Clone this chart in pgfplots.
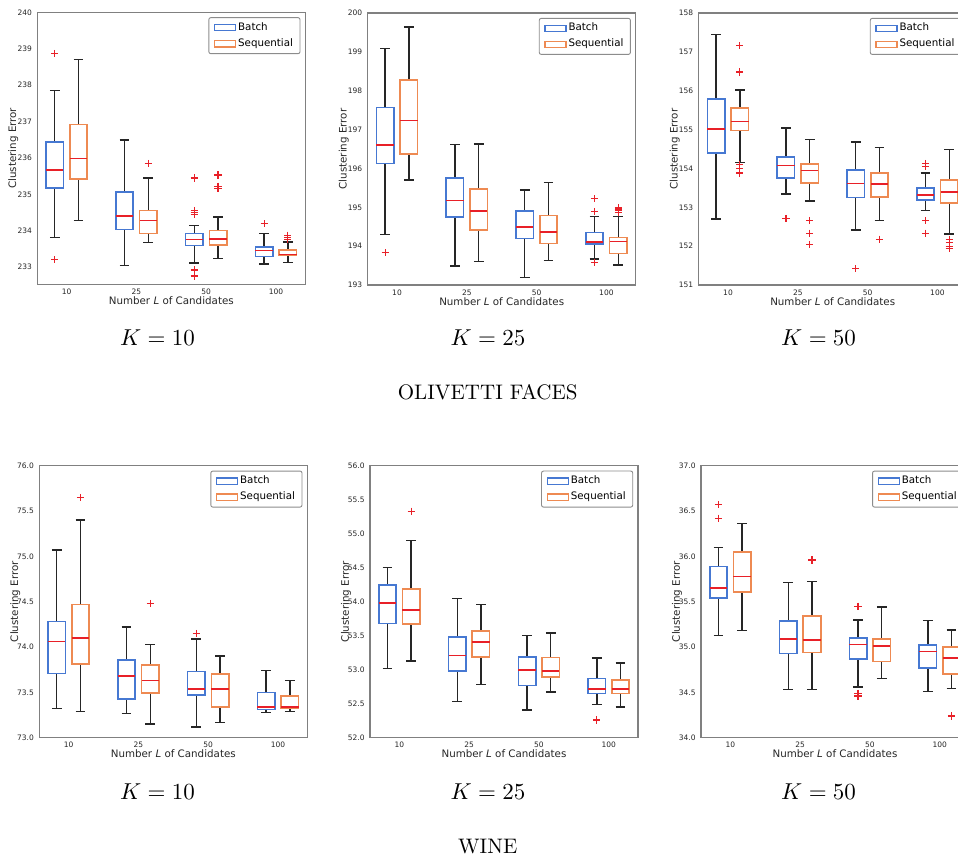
\RequirePackage{fix-cm}
\documentclass[border=0pt]{standalone}
\usepackage{fontspec}
\usepackage{pgfplots}
\pgfplotsset{compat=1.18}
\usepgfplotslibrary{statistics}
\newfontfamily\dv{DejaVu Sans}

\definecolor{bblue}{RGB}{70,120,210}
\definecolor{sorange}{RGB}{238,138,82}
\definecolor{mred}{RGB}{232,32,40}

% one box: style, position, lower whisker, Q1, median, Q3, upper whisker, outliers
\newcommand{\bp}[8]{\addplot[forget plot, mred, #1, mark=+, mark size=1.8pt,
  mark options={mred, line width=0.6pt, solid},
  boxplot prepared={draw position=#2, lower whisker=#3, lower quartile=#4,
  median=#5, upper quartile=#6, upper whisker=#7}] coordinates {#8};}

\newcommand{\legBS}{%
  \addlegendimage{legend image code/.code={\draw[sharp corners,bblue,line width=0.65pt] (0pt,-1.6pt) rectangle (10.5pt,1.6pt);}}
  \addlegendentry{Batch}
  \addlegendimage{legend image code/.code={\draw[sharp corners,sorange,line width=0.65pt] (0pt,-1.6pt) rectangle (10.5pt,1.6pt);}}
  \addlegendentry{Sequential}}

\pgfplotsset{
  bat/.style={/pgfplots/boxplot/every box/.style={draw=bblue, line width=0.8pt}},
  seq/.style={/pgfplots/boxplot/every box/.style={draw=sorange, line width=0.8pt}},
  panel/.style={
    scale only axis, width=134pt, height=136pt, anchor=south west,
    xmin=-4.2, xmax=34.2,
    xtick={0,10,20,30}, xticklabels={10,25,50,100},
    major tick length=0pt,
    axis line style={black!50, line width=0.6pt},
    /pgf/number format/assume math mode=true,
    ticklabel style={font=\dv\fontsize{3.75}{4.5}\selectfont, black!85},
    xticklabel style={yshift=1.3pt},
    yticklabel style={xshift=0.8pt},
    xlabel={Number \textit{L} of Candidates},
    ylabel={Clustering Error},
    every axis x label/.style={at={(rel axis cs:0.5,0)}, yshift=-8.2pt, anchor=center,
      font=\dv\fontsize{5.15}{6}\selectfont, black!85},
    every axis y label/.style={at={(rel axis cs:0,0.5)}, xshift=-12pt, rotate=90, anchor=center,
      font=\dv\fontsize{5.15}{6}\selectfont, black!85},
    boxplot/draw direction=y,
    boxplot/box extend=2.5, boxplot/whisker extend=1.4,
    boxplot/every whisker/.style={black!85, line width=0.7pt},
    boxplot/every median/.style={mred, line width=0.8pt},
    legend cell align=left,
    legend style={at={(rel axis cs:0.982,0.982)}, anchor=north east,
      draw=black!45, line width=0.45pt, rounded corners=1pt,
      font=\dv\fontsize{5.15}{6}\selectfont, inner xsep=2.5pt, inner ysep=1.3pt,
      row sep=0.6pt, nodes={inner sep=1pt}},
  },
  dec/.style={yticklabel style={/pgf/number format/.cd, fixed, fixed zerofill, precision=1}},
}

\begin{document}
\begin{tikzpicture}
\useasboundingbox (0,0) rectangle (479pt,428.5pt);
\clip (0,0) rectangle (479pt,428.5pt);

% OLIVETTI FACES, K=10
\begin{axis}[panel, at={(18.65pt,286.35pt)}, ymin=232.53, ymax=240, ytick={233,...,240}]
\bp{bat}{-1.7}{233.82}{235.17}{235.67}{236.43}{237.86}{(0,238.87)(0,233.20)}
\bp{seq}{1.7}{234.28}{235.42}{235.98}{236.92}{238.71}{}
\bp{bat}{8.3}{233.04}{234.03}{234.40}{235.06}{236.49}{}
\bp{seq}{11.7}{233.67}{233.93}{234.28}{234.56}{235.45}{(0,235.85)}
\bp{bat}{18.3}{233.12}{233.59}{233.76}{233.92}{234.15}{(0,235.45)(0,234.56)(0,234.50)(0,234.44)(0,232.92)(0,232.76)}
\bp{seq}{21.7}{233.24}{233.61}{233.77}{234.01}{234.38}{(0,235.53)(0,235.22)(0,235.17)}
\bp{bat}{28.3}{233.09}{233.29}{233.46}{233.56}{233.92}{(0,234.19)}
\bp{seq}{31.7}{233.13}{233.33}{233.35}{233.48}{233.69}{(0,233.88)(0,233.82)(0,233.77)}
\legBS
\end{axis}

% OLIVETTI FACES, K=25
\begin{axis}[panel, at={(183.85pt,286pt)}, ymin=193, ymax=200, ytick={193,...,200}]
\bp{bat}{-1.7}{194.30}{196.13}{196.61}{197.57}{199.08}{(0,193.83)}
\bp{seq}{1.7}{195.70}{196.37}{197.23}{198.27}{199.64}{}
\bp{bat}{8.3}{193.49}{194.75}{195.17}{195.76}{196.62}{}
\bp{seq}{11.7}{193.61}{194.41}{194.90}{195.47}{196.63}{}
\bp{bat}{18.3}{193.19}{194.20}{194.50}{194.90}{195.44}{}
\bp{seq}{21.7}{193.63}{194.07}{194.36}{194.79}{195.64}{}
\bp{bat}{28.3}{193.67}{194.05}{194.10}{194.35}{194.77}{(0,195.22)(0,194.89)(0,193.58)}
\bp{seq}{31.7}{193.51}{193.81}{194.12}{194.22}{194.77}{(0,194.98)(0,194.93)(0,194.87)}
\legBS
\end{axis}

% OLIVETTI FACES, K=50
\begin{axis}[panel, at={(349.35pt,286pt)}, ymin=151, ymax=158, ytick={151,...,158}]
\bp{bat}{-1.7}{152.70}{154.39}{155.02}{155.79}{157.44}{}
\bp{seq}{1.7}{154.15}{154.98}{155.21}{155.55}{156.02}{(0,157.16)(0,156.48)(0,154.10)(0,153.99)(0,153.88)}
\bp{bat}{8.3}{153.34}{153.75}{154.08}{154.29}{155.04}{(0,152.71)}
\bp{seq}{11.7}{153.16}{153.63}{153.95}{154.12}{154.74}{(0,152.66)(0,152.33)(0,152.04)}
\bp{bat}{18.3}{152.42}{153.25}{153.61}{153.96}{154.68}{(0,151.42)}
\bp{seq}{21.7}{152.66}{153.27}{153.60}{153.88}{154.54}{(0,152.18)}
\bp{bat}{28.3}{152.91}{153.18}{153.32}{153.49}{153.88}{(0,154.13)(0,154.05)(0,152.66)(0,152.33)}
\bp{seq}{31.7}{152.31}{153.11}{153.39}{153.70}{154.49}{(0,152.18)(0,152.09)(0,152.00)(0,151.94)}
\legBS
\end{axis}

% WINE, K=10
\begin{axis}[panel, dec, at={(19.65pt,59.65pt)}, ymin=73, ymax=76, ytick={73,73.5,...,76}]
\bp{bat}{-1.7}{73.32}{73.71}{74.06}{74.28}{75.07}{}
\bp{seq}{1.7}{73.29}{73.81}{74.10}{74.47}{75.40}{(0,75.65)}
\bp{bat}{8.3}{73.27}{73.43}{73.68}{73.86}{74.22}{}
\bp{seq}{11.7}{73.15}{73.49}{73.63}{73.80}{74.03}{(0,74.48)}
\bp{bat}{18.3}{73.12}{73.47}{73.54}{73.73}{74.09}{(0,74.15)}
\bp{seq}{21.7}{73.17}{73.34}{73.54}{73.70}{73.90}{}
\bp{bat}{28.3}{73.28}{73.31}{73.34}{73.50}{73.74}{}
\bp{seq}{31.7}{73.29}{73.32}{73.34}{73.46}{73.63}{}
\legBS
\end{axis}

% WINE, K=25
\begin{axis}[panel, dec, at={(185pt,59.65pt)}, ymin=52, ymax=56, ytick={52,52.5,...,56}]
\bp{bat}{-1.7}{53.02}{53.68}{53.98}{54.25}{54.50}{}
\bp{seq}{1.7}{53.13}{53.67}{53.88}{54.19}{54.90}{(0,55.33)}
\bp{bat}{8.3}{52.53}{52.98}{53.21}{53.48}{54.05}{}
\bp{seq}{11.7}{52.78}{53.19}{53.41}{53.57}{53.96}{}
\bp{bat}{18.3}{52.41}{52.77}{53.00}{53.19}{53.50}{}
\bp{seq}{21.7}{52.67}{52.89}{52.98}{53.18}{53.54}{}
\bp{bat}{28.3}{52.49}{52.65}{52.72}{52.87}{53.17}{(0,52.26)}
\bp{seq}{31.7}{52.45}{52.65}{52.72}{52.85}{53.10}{}
\legBS
\end{axis}

% WINE, K=50
\begin{axis}[panel, dec, at={(350.5pt,59.65pt)}, ymin=34, ymax=37, ytick={34,34.5,...,37}]
\bp{bat}{-1.7}{35.13}{35.54}{35.65}{35.89}{36.10}{(0,36.57)(0,36.42)}
\bp{seq}{1.7}{35.18}{35.61}{35.78}{36.05}{36.36}{}
\bp{bat}{8.3}{34.53}{34.93}{35.09}{35.29}{35.71}{}
\bp{seq}{11.7}{34.53}{34.94}{35.08}{35.34}{35.72}{(0,35.96)}
\bp{bat}{18.3}{34.56}{34.87}{35.03}{35.10}{35.30}{(0,35.45)(0,34.49)(0,34.46)}
\bp{seq}{21.7}{34.65}{34.84}{35.01}{35.09}{35.44}{}
\bp{bat}{28.3}{34.51}{34.77}{34.95}{35.02}{35.29}{}
\bp{seq}{31.7}{34.54}{34.70}{34.88}{35.00}{35.19}{(0,34.24)}
\legBS
\end{axis}

% captions
\node[font=\fontsize{11.5}{14}\selectfont] at (78.8pt,259.5pt) {$K=10$};
\node[font=\fontsize{11.5}{14}\selectfont] at (244pt,259.5pt) {$K=25$};
\node[font=\fontsize{11.5}{14}\selectfont] at (409.3pt,259.5pt) {$K=50$};
\node[font=\fontsize{10.5}{12.5}\selectfont] at (243.85pt,232.5pt) {OLIVETTI FACES};
\node[font=\fontsize{11.5}{14}\selectfont] at (78.8pt,32.5pt) {$K=10$};
\node[font=\fontsize{11.5}{14}\selectfont] at (244pt,32.5pt) {$K=25$};
\node[font=\fontsize{11.5}{14}\selectfont] at (409.3pt,32.5pt) {$K=50$};
\node[font=\fontsize{10.5}{12.5}\selectfont] at (243.85pt,5pt) {WINE};
\end{tikzpicture}
\end{document}
